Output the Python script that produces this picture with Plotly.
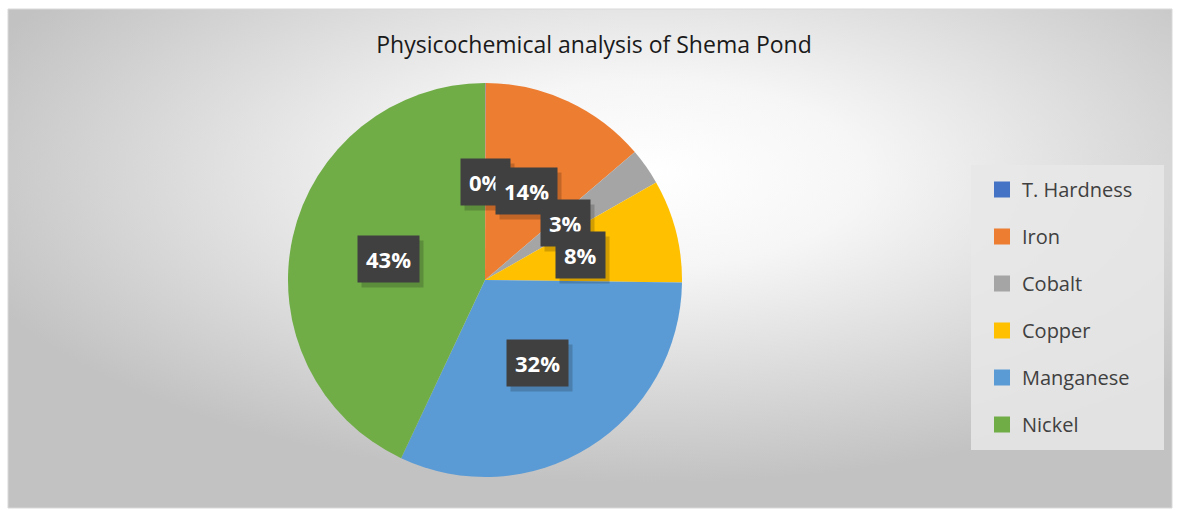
import base64, math
import plotly.graph_objects as go

# ---- data ----
categories = ["T. Hardness", "Iron", "Cobalt", "Copper", "Manganese", "Nickel"]
values = [0.05, 13.7, 3.0, 8.45, 31.8, 43.0]
colors = ["#4472C4", "#ED7D31", "#A5A5A5", "#FFC000", "#5B9BD5", "#70AD47"]
title_text = "Physicochemical analysis of Shema Pond"

W, H = 1177, 510
cx, cy, R = 485, 280, 197  # pie centre / radius in px

fig = go.Figure()

# background gradient (chart area)
svg = ("<svg xmlns='http://www.w3.org/2000/svg' width='1164' height='499' preserveAspectRatio='none'>"
       "<defs><radialGradient id='g' cx='0.55' cy='0.33' r='0.62'>"
       "<stop offset='0' stop-color='#ffffff'/><stop offset='0.3' stop-color='#f6f6f6'/>"
       "<stop offset='1' stop-color='#c2c2c2'/></radialGradient></defs>"
       "<rect width='1164' height='499' fill='url(#g)'/></svg>")
src = "data:image/svg+xml;base64," + base64.b64encode(svg.encode()).decode()
x0, x1, y0, y1 = 8, 1172, 9, 508
fig.add_layout_image(dict(source=src, xref="paper", yref="paper",
                          x=x0 / W, y=1 - y0 / H, sizex=(x1 - x0) / W, sizey=(y1 - y0) / H,
                          xanchor="left", yanchor="top", sizing="stretch", layer="below"))
fig.add_shape(type="rect", xref="paper", yref="paper",
              x0=x0 / W, x1=x1 / W, y0=1 - y1 / H, y1=1 - y0 / H,
              line=dict(color="#d9d9d9", width=1), layer="below")

fig.add_trace(go.Pie(
    labels=categories, values=values, sort=False, direction="clockwise", rotation=0,
    marker=dict(colors=colors, line=dict(width=0)),
    textinfo="none", hoverinfo="label+percent", showlegend=False,
    domain=dict(x=[(cx - R) / W, (cx + R) / W], y=[1 - (cy + R) / H, 1 - (cy - R) / H]),
))

# legend entries
for c, col in zip(categories, colors):
    fig.add_trace(go.Scatter(x=[None], y=[None], mode="markers", name=c,
                             marker=dict(symbol="square", size=16, color=col),
                             legendgroup=c, showlegend=True))

# data labels: boxes at half radius along slice mid-angle
total = sum(values)
cum = 0.0
for v in values:
    mid = (cum + v / 2) / total
    cum += v
    th = 2 * math.pi * mid
    px = cx + 0.5 * R * math.sin(th)
    py = cy - 0.5 * R * math.cos(th)
    txt = f"{round(v / total * 100)}%"
    common = dict(xref="paper", yref="paper", x=px / W, y=1 - py / H, showarrow=False,
                  borderpad=8, xanchor="center", yanchor="middle")
    fig.add_annotation(text=f"<b>{txt}</b>", bgcolor="rgba(0,0,0,0.18)", xshift=4, yshift=-5,
                       font=dict(family="Open Sans", size=22, color="rgba(0,0,0,0)"), **common)
    fig.add_annotation(text=f"<b>{txt}</b>", bgcolor="#404040",
                       font=dict(family="Open Sans", size=22, color="white"), **common)

# legend background box
fig.add_shape(type="rect", xref="paper", yref="paper",
              x0=971 / W, x1=1164 / W, y0=1 - 450 / H, y1=1 - 165 / H,
              fillcolor="rgba(232,232,232,0.85)", line=dict(width=0), layer="below")

fig.update_layout(
    width=W, height=H, autosize=False,
    margin=dict(l=0, r=0, t=0, b=0),
    paper_bgcolor="white", plot_bgcolor="rgba(0,0,0,0)",
    xaxis=dict(visible=False), yaxis=dict(visible=False),
    title=dict(text=title_text, x=594 / W, xanchor="center", y=1 - 45 / H, yanchor="middle",
               font=dict(family="Open Sans", size=23, color="#1a1a1a")),
    legend=dict(x=982 / W, y=1 - 170 / H, xanchor="left", yanchor="top",
                bgcolor="rgba(0,0,0,0)", tracegroupgap=18,
                font=dict(family="Open Sans", size=20, color="#404040")),
)

fig.write_html("out.html", config={"displayModeBar": False},
               post_script="document.body.style.margin='0';")
